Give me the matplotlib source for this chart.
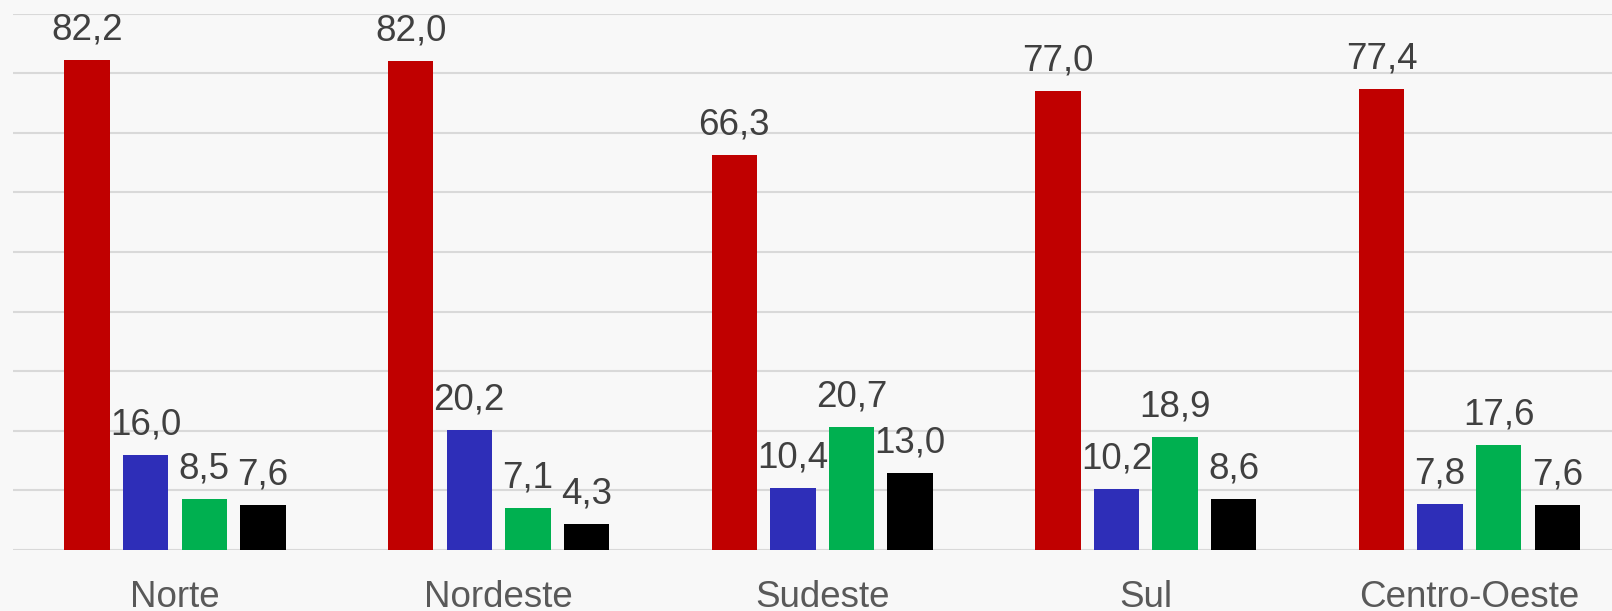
import matplotlib
matplotlib.use("Agg")
import matplotlib.pyplot as plt
import numpy as np

regions = ["Norte", "Nordeste", "Sudeste", "Sul", "Centro-Oeste"]
serie_1 = [82.2, 82.0, 66.3, 77.0, 77.4]
serie_2 = [16.0, 20.2, 10.4, 10.2, 7.8]
serie_3 = [8.5, 7.1, 20.7, 18.9, 17.6]
serie_4 = [7.6, 4.3, 13.0, 8.6, 7.6]
series = [serie_1, serie_2, serie_3, serie_4]
colors = ["#C00000", "#2E2EB8", "#00B050", "#000000"]

W, H = 1612, 611
fig = plt.figure(figsize=(W / 100, H / 100), dpi=100)
bg = "#F8F8F8"
fig.patch.set_facecolor(bg)
ax = fig.add_axes([13 / W, 61 / H, (1612 - 13) / W, (597.5 - 61) / H])
ax.set_facecolor(bg)
plt.rcParams['font.family'] = ['Liberation Sans', 'DejaVu Sans']

x = np.arange(len(regions))
pitch = 58.6 / 323.6
width = 45.5 / 323.6
for k, (vals, c) in enumerate(zip(series, colors)):
    pos = x + (k - 1.5) * pitch
    bars = ax.bar(pos, vals, width=width, color=c, zorder=3)
    for xi, v in zip(pos, vals):
        ax.annotate(f"{v:.1f}".replace(".", ","), (xi, v), xytext=(0, 9),
                    textcoords="offset points", ha="center", va="bottom",
                    fontsize=26.5, color="#404040", family=['Liberation Sans', 'DejaVu Sans'],
                    annotation_clip=False, zorder=4)

ax.set_xlim(-(175 - 13) / 323.6, (1612 - 175) / 323.6)
ax.set_ylim(0, 90)
ax.set_yticks(np.arange(0, 91, 10))
ax.yaxis.grid(True, color="#D9D9D9", linewidth=1.5, zorder=0)
ax.tick_params(axis="y", left=False, labelleft=False)
ax.set_xticks(x)
ax.set_xticklabels(regions, fontsize=26.5, color="#595959", family=['Liberation Sans', 'DejaVu Sans'])
ax.tick_params(axis="x", bottom=False, pad=18)
for s in ax.spines.values():
    s.set_visible(False)

fig.savefig("out.png", dpi=100, facecolor=bg)
